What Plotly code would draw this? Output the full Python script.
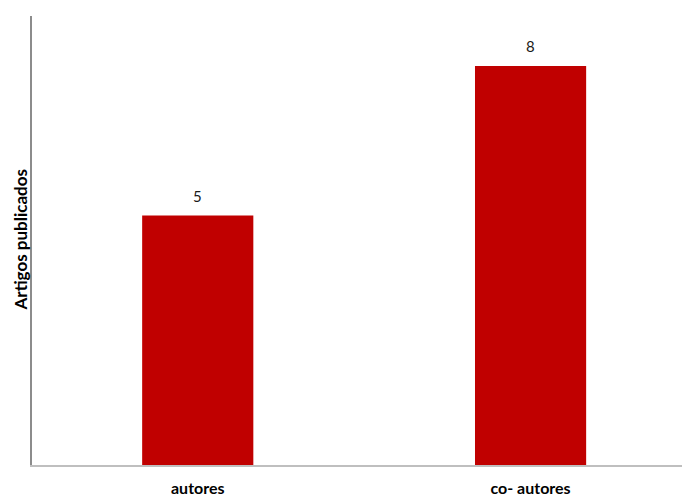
import plotly.graph_objects as go

categories = ["autores", "co- autores"]
artigos = [5, 8]

BAR_COLOR = "#C00000"
FONT = "Lato, 'Open Sans', sans-serif"

fig = go.Figure(
    go.Bar(
        x=categories,
        y=artigos,
        width=0.334,
        marker=dict(color=BAR_COLOR, line=dict(width=0)),
        hoverinfo="skip",
    )
)

# value labels above each bar
for cat, val in zip(categories, artigos):
    fig.add_annotation(
        x=cat, y=val, text=str(val), showarrow=False,
        yanchor="middle", yshift=20,
        font=dict(family=FONT, size=15, color="#1a1a1a"),
    )

# rotated y-axis title
fig.add_annotation(
    xref="paper", yref="paper", x=0, y=0.5,
    xanchor="center", yanchor="middle", xshift=-12,
    text="<b>Artigos publicados</b>", textangle=-90, showarrow=False,
    font=dict(family=FONT, size=17, color="#000000"),
)

fig.update_layout(
    width=683, height=498,
    margin=dict(l=32, r=1, t=16, b=33),
    paper_bgcolor="white", plot_bgcolor="white",
    showlegend=False,
    font=dict(family=FONT),
    xaxis=dict(
        range=[-0.498, 1.455],
        automargin=False,
        showline=True, linecolor="#bfbfbf", linewidth=1.5,
        showgrid=False, zeroline=False,
        ticks="outside", ticklen=8, tickcolor="rgba(0,0,0,0)",
        tickfont=dict(family=FONT, size=16, color="#000000", weight="bold"),
    ),
    yaxis=dict(
        range=[0, 9],
        automargin=False,
        showline=True, linecolor="#8c8c8c", linewidth=1.5,
        showgrid=False, zeroline=False, showticklabels=False, ticks="",
    ),
)

fig.write_html("out.html")
